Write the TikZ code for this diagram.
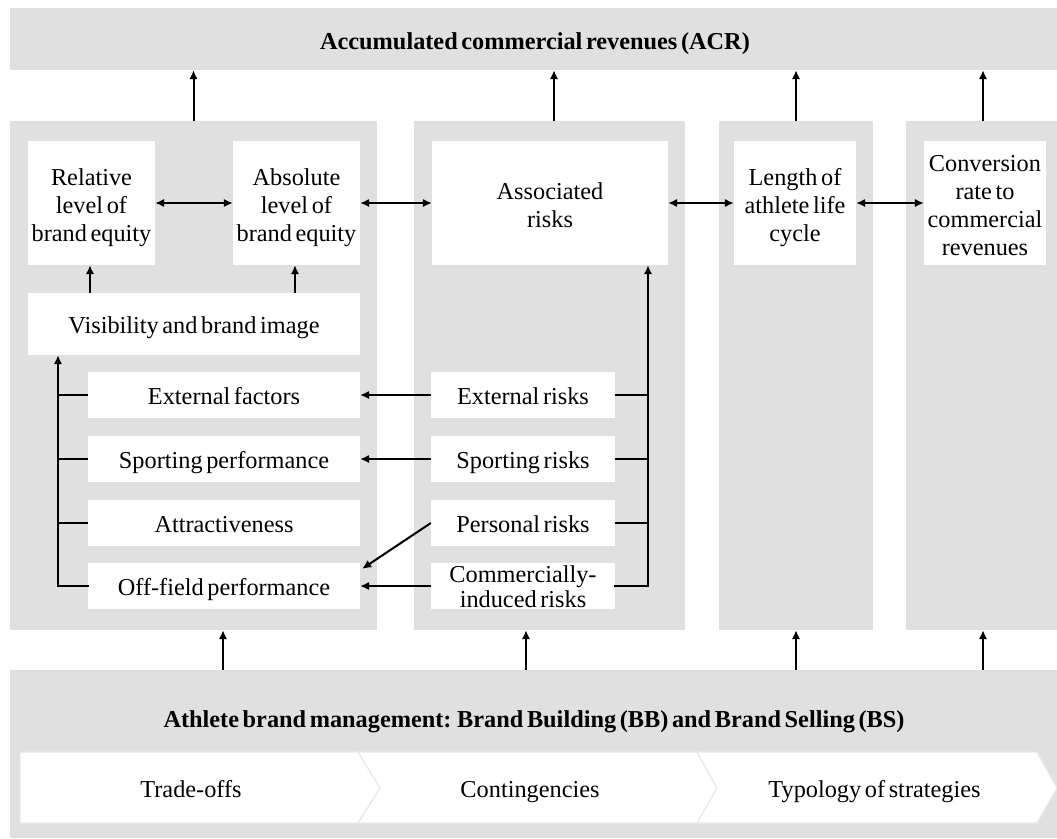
\documentclass[tikz,border=0pt]{standalone}
\usepackage{fontspec}
\setmainfont{Liberation Serif}[WordSpace=0.6]
\usetikzlibrary{arrows.meta}
\definecolor{panel}{HTML}{E0E0E0}
\definecolor{seam}{HTML}{E9E9E9}
% uniform line box so that every label sits at the same height
\newcommand{\lbox}{\rule[-6pt]{0pt}{31pt}}
\tikzset{
  x=1pt, y=-1pt,
  txt/.style={font=\fontsize{24.3}{28}\selectfont, align=center, inner sep=0pt,
              execute at begin node=\lbox, execute at end node=\lbox},
  band/.style={fill=panel, draw=none, inner sep=0pt},
  column/.style={fill=panel, draw=none, inner sep=0pt},
  box/.style={txt, fill=white, draw=none},
  link/.style={line width=2pt, -{Latex[length=9pt,width=8.5pt]}},
  twoway/.style={line width=2pt, {Latex[length=9pt,width=8.5pt]}-{Latex[length=9pt,width=8.5pt]}},
  branch/.style={line width=2pt},
  chev/.style={fill=white, draw=seam, line width=1.2pt, line join=miter},
}
\begin{document}
\begin{tikzpicture}
\useasboundingbox (0,0) rectangle (1057,838);

% outer bands and columns
\node[band, minimum width=1047pt, minimum height=62pt] (acrband) at (533.5,39) {};
\node[txt, font=\fontsize{24.3}{28}\selectfont\bfseries] (acr) at (535,40) {Accumulated commercial revenues (ACR)};
\node[column, minimum width=367pt, minimum height=509pt] (col1) at (193.5,375.5) {};
\node[column, minimum width=271pt, minimum height=509pt] (col2) at (549.5,375.5) {};
\node[column, minimum width=154pt, minimum height=509pt] (col3) at (796,375.5) {};
\node[column, minimum width=151pt, minimum height=509pt] (col4) at (981.5,375.5) {};
\node[column, minimum width=1047pt, minimum height=168pt] (abm) at (533.5,754) {};
\node[txt, font=\fontsize{24.3}{28}\selectfont\bfseries] (abmtitle) at (534,718) {Athlete brand management: Brand Building (BB) and Brand Selling (BS)};

% upper row of boxes (labels set separately, slightly below centre)
\node[box, minimum width=127pt, minimum height=124pt] (rel) at (91.5,203) {};
\node[box, minimum width=127pt, minimum height=124pt] (abs) at (296.5,203) {};
\node[box, minimum width=236pt, minimum height=124pt] (assoc) at (550,203) {};
\node[box, minimum width=122pt, minimum height=124pt] (len) at (795,203) {};
\node[box, minimum width=122pt, minimum height=124pt] (conv) at (985,203) {};
\node[txt] (reltxt) at ([yshift=-5pt]rel.center) {Relative\\level of\\brand equity};
\node[txt] (abstxt) at ([yshift=-5pt]abs.center) {Absolute\\level of\\brand equity};
\node[txt] (assoctxt) at ([yshift=-5pt]assoc.center) {Associated\\risks};
\node[txt] (lentxt) at ([yshift=-5pt]len.center) {Length of\\athlete life\\cycle};
\node[txt] (convtxt) at ([yshift=-5pt]conv.center) {Conversion\\rate to\\commercial\\revenues};

% brand equity drivers
\node[box, minimum width=332pt, minimum height=62pt] (vis) at (194,324) {Visibility and brand image};
\node[box, minimum width=272pt, minimum height=46pt] (extf) at (224,395) {External factors};
\node[box, minimum width=272pt, minimum height=46pt] (sportp) at (224,459) {Sporting performance};
\node[box, minimum width=272pt, minimum height=46pt] (attr) at (224,523) {Attractiveness};
\node[box, minimum width=272pt, minimum height=46pt] (off) at (224,586) {Off-field performance};

% risk types
\node[box, minimum width=184pt, minimum height=46pt] (extr) at (523,395) {External risks};
\node[box, minimum width=184pt, minimum height=46pt] (sportr) at (523,459) {Sporting risks};
\node[box, minimum width=184pt, minimum height=46pt] (persr) at (523,523) {Personal risks};
\node[box, minimum width=184pt, minimum height=46pt] (commr) at (523,586) {};
\node[txt] (commrtxt) at ([yshift=-4pt]commr.center) {Commercially-\\[-3pt]induced risks};

% arrows into the revenue band
\draw[link] (col1.north) -- (col1.north |- acrband.south);
\draw[link] ([xshift=4.5pt]col2.north) -- ([xshift=4.5pt]col2.north |- acrband.south);
\draw[link] (col3.north) -- (col3.north |- acrband.south);
\draw[link] ([xshift=1.5pt]col4.north) -- ([xshift=1.5pt]col4.north |- acrband.south);

% arrows from brand management
\draw[link] ([xshift=29.5pt]col1.south |- abm.north) -- ([xshift=29.5pt]col1.south);
\draw[link] ([xshift=-23.5pt]col2.south |- abm.north) -- ([xshift=-23.5pt]col2.south);
\draw[link] (col3.south |- abm.north) -- (col3.south);
\draw[link] ([xshift=1.5pt]col4.south |- abm.north) -- ([xshift=1.5pt]col4.south);

% two-way links along the upper row
\draw[twoway] (rel.east) -- (abs.west);
\draw[twoway] (abs.east) -- (assoc.west);
\draw[twoway] (assoc.east) -- (len.west);
\draw[twoway] (len.east) -- (conv.west);

% visibility feeds both brand equity levels
\draw[link] ([xshift=-1.5pt]rel.south |- vis.north) -- ([xshift=-1.5pt]rel.south);
\draw[link] ([xshift=-1.5pt]abs.south |- vis.north) -- ([xshift=-1.5pt]abs.south);

% drivers collected into visibility
\coordinate (ltrunk) at (58,586);
\draw[link] (ltrunk) -- (ltrunk |- vis.south);
\draw[branch] (extf.west) -- (extf.west -| ltrunk);
\draw[branch] (sportp.west) -- (sportp.west -| ltrunk);
\draw[branch] (attr.west) -- (attr.west -| ltrunk);
\draw[branch, line cap=rect] (off.west) -- (ltrunk);

% risks collected into associated risks
\coordinate (rtrunk) at (648,586);
\draw[link] (rtrunk) -- (rtrunk |- assoc.south);
\draw[branch] (extr.east) -- (extr.east -| rtrunk);
\draw[branch] (sportr.east) -- (sportr.east -| rtrunk);
\draw[branch] (persr.east) -- (persr.east -| rtrunk);
\draw[branch, line cap=rect] (commr.east) -- (rtrunk);

% risks acting on drivers
\draw[link] (extr.west) -- (extf.east);
\draw[link] (sportr.west) -- (sportp.east);
\draw[link] (commr.west) -- (off.east);
\draw[link] (persr.west) -- ([xshift=2pt,yshift=-6pt]off.north east);

% process chevrons
\draw[chev] (20,752) -- (358,752) -- (380,788) -- (358,823) -- (20,823) -- cycle;
\draw[chev] (358,752) -- (697,752) -- (717,788) -- (697,823) -- (358,823) -- (380,788) -- cycle;
\draw[chev] (697,752) -- (1037,752) -- (1057,788) -- (1037,823) -- (697,823) -- (717,788) -- cycle;
\node[txt] (tradeoffs) at (191,788) {Trade-offs};
\node[txt] (conting) at (530,788) {Contingencies};
\node[txt] (typology) at (874.5,788) {Typology of strategies};
\end{tikzpicture}
\end{document}
